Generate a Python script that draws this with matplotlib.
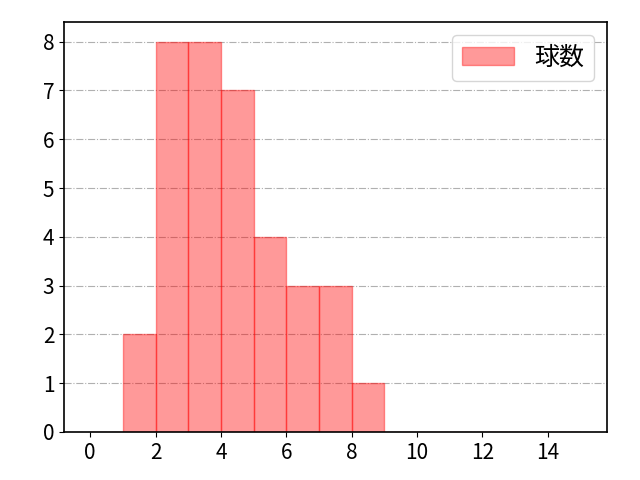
import matplotlib
matplotlib.use("Agg")
import matplotlib.pyplot as plt
import numpy as np

plt.rcParams["font.family"] = ["Noto Sans CJK JP", "DejaVu Sans"]

# pitch-count histogram: bin edges 0..15, counts per bin
BIN_EDGES = list(range(0, 16))
COUNTS = [0, 2, 8, 8, 7, 4, 3, 3, 1, 0, 0, 0, 0, 0, 0]
LABEL = "球数"


def main():
    centers = np.array(BIN_EDGES[:-1]) + 0.5
    fig, ax = plt.subplots(figsize=(6.4, 4.8), dpi=100)
    ax.hist(centers, bins=BIN_EDGES, weights=COUNTS, color="red", alpha=0.4,
            edgecolor="red", linewidth=1, label=LABEL)
    ax.set_xlim(-0.8, 15.8)
    ax.set_ylim(0, 8.4)
    ax.set_xticks(range(0, 15, 2))
    ax.grid(axis="y", ls="-.", color="#b0b0b0", lw=0.8)
    ax.set_axisbelow(True)
    ax.tick_params(labelsize=15)
    for s in ax.spines.values():
        s.set_linewidth(1.2)
    ax.legend(fontsize=18, loc="upper right", borderaxespad=0.5,
              handlelength=2.1)
    fig.subplots_adjust(left=0.1, right=0.948, top=0.954, bottom=0.1)
    fig.savefig("out.png", dpi=100)
    plt.close(fig)


if __name__ == "__main__":
    main()
